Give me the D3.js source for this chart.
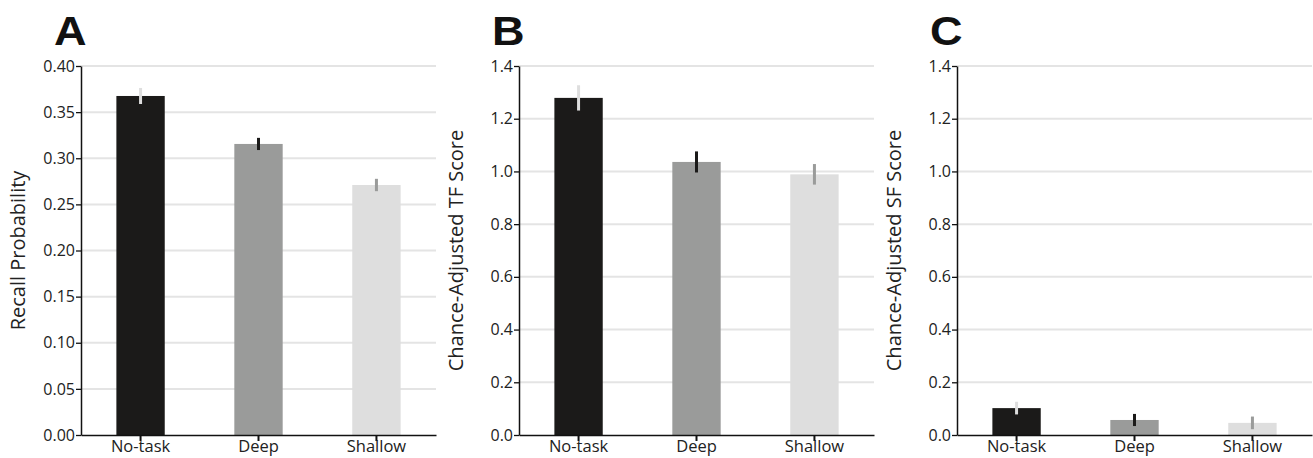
<!DOCTYPE html>
<html>
<head>
<meta charset="utf-8">
<script src="https://cdn.jsdelivr.net/npm/d3@7"></script>
<style>
  body { margin: 0; background: #fff; }
  svg { font-family: "Open Sans", "Noto Sans", sans-serif; }
</style>
</head>
<body>
<div class="chart"></div>
<script>
const conditions = ["No-task", "Deep", "Shallow"]
const barColors = ["#1b1a19", "#9a9b9a", "#dedede"]
const errColors = ["#dedede", "#1b1a19", "#9a9b9a"]

const recallMean = [0.3675, 0.3155, 0.271]
const recallErr = [0.0087, 0.0066, 0.0067]
const tfMean = [1.279, 1.036, 0.989]
const tfErr = [0.048, 0.040, 0.039]
const sfMean = [0.102, 0.057, 0.046]
const sfErr = [0.024, 0.023, 0.024]

const recallTicks = [0, 0.05, 0.1, 0.15, 0.2, 0.25, 0.3, 0.35, 0.4]
const scoreTicks = [0, 0.2, 0.4, 0.6, 0.8, 1.0, 1.2, 1.4]

const panels = [
  {letter: "A", label: "Recall Probability", mean: recallMean, err: recallErr, max: 0.4, ticks: recallTicks, fmt: ".2f", left: 81},
  {letter: "B", label: "Chance-Adjusted TF Score", mean: tfMean, err: tfErr, max: 1.4, ticks: scoreTicks, fmt: ".1f", left: 519},
  {letter: "C", label: "Chance-Adjusted SF Score", mean: sfMean, err: sfErr, max: 1.4, ticks: scoreTicks, fmt: ".1f", left: 957}
]

const W = 1313, H = 458
const plotTop = 66, plotBottom = 435, plotW = 355

const svg = d3.select(".chart").append("svg")
    .attr("width", W)
    .attr("height", H)

panels.forEach(p => {
    const g = svg.append("g")
        .attr("transform", `translate(${p.left},0)`)

    const x = d3.scaleBand()
        .domain(conditions)
        .range([0, plotW])
        .paddingInner(0.59)
        .paddingOuter(0.3)

    const y = d3.scaleLinear()
        .domain([0, p.max])
        .range([plotBottom, plotTop])

    // gridlines
    g.append("g")
        .selectAll("line")
        .data(p.ticks.slice(1))
        .join("line")
            .attr("x1", 0)
            .attr("x2", plotW)
            .attr("y1", d => y(d))
            .attr("y2", d => y(d))
            .attr("stroke", "#e4e4e4")
            .attr("stroke-width", 2)

    g.selectAll(".bar")
        .data(conditions)
        .join("rect")
            .attr("class", "bar")
            .attr("x", d => x(d))
            .attr("width", x.bandwidth())
            .attr("y", (d, i) => y(p.mean[i]))
            .attr("height", (d, i) => y(0) - y(p.mean[i]))
            .attr("fill", (d, i) => barColors[i])

    g.selectAll(".err")
        .data(conditions)
        .join("line")
            .attr("class", "err")
            .attr("x1", d => x(d) + x.bandwidth() / 2)
            .attr("x2", d => x(d) + x.bandwidth() / 2)
            .attr("y1", (d, i) => y(p.mean[i] + p.err[i]))
            .attr("y2", (d, i) => y(p.mean[i] - p.err[i]))
            .attr("stroke", (d, i) => errColors[i])
            .attr("stroke-width", 3)

    const yAxis = d3.axisLeft(y)
        .tickValues(p.ticks)
        .tickFormat(d3.format(p.fmt))
        .tickSize(5)
        .tickSizeOuter(0)

    g.append("g")
        .call(yAxis)
        .call(a => a.select(".domain").attr("stroke", "#111").attr("stroke-width", 1.5))
        .call(a => a.selectAll(".tick line").attr("stroke", "#111").attr("stroke-width", 1.3))
        .call(a => a.selectAll(".tick text")
            .attr("x", -6)
            .attr("fill", "#222")
            .style("font-family", "'Open Sans', sans-serif")
            .style("font-size", "16px"))

    const xAxis = d3.axisBottom(x)
        .tickSize(6)
        .tickSizeOuter(0)

    g.append("g")
        .attr("transform", `translate(0,${plotBottom})`)
        .call(xAxis)
        .call(a => a.select(".domain").attr("stroke", "#111").attr("stroke-width", 1.5))
        .call(a => a.selectAll(".tick line").attr("stroke", "#111").attr("stroke-width", 2))
        .call(a => a.selectAll(".tick text")
            .attr("y", 5)
            .attr("fill", "#222")
            .style("font-family", "'Open Sans', sans-serif")
            .style("font-size", "16.5px"))

    g.append("text")
        .attr("transform", `translate(${-56},${(plotTop + plotBottom) / 2}) rotate(-90)`)
        .attr("text-anchor", "middle")
        .attr("fill", "#222")
        .style("font-size", "20px")
        .text(p.label)

    g.append("text")
        .attr("transform", "translate(-27,45) scale(1.1,1)")
        .attr("fill", "#111")
        .style("font-family", "'Liberation Sans', Arial, sans-serif")
        .style("font-weight", "bold")
        .style("font-size", "41px")
        .text(p.letter)
})
</script>
</body>
</html>
